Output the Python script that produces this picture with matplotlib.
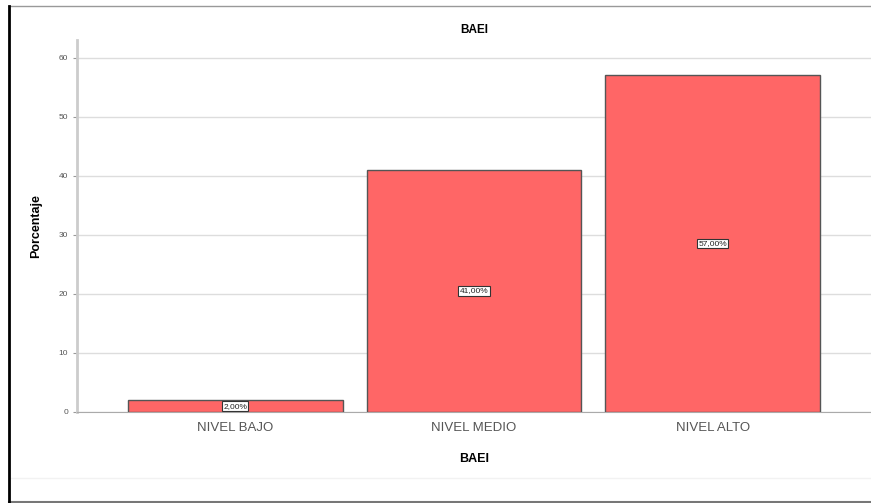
import matplotlib

matplotlib.use('Agg')
import matplotlib.pyplot as plt
from matplotlib.lines import Line2D

plt.rcParams['font.family'] = ['Liberation Sans', 'DejaVu Sans']

# Data
categories = ['NIVEL BAJO', 'NIVEL MEDIO', 'NIVEL ALTO']
percentages = [2.0, 41.0, 57.0]
yticks = [0, 10, 20, 30, 40, 50, 60]

fig = plt.figure(figsize=(8.71, 5.03), dpi=100)
ax = fig.add_axes([0.0884, 0.181, 0.9116, 0.7396])

x = range(len(categories))
ax.bar(x, percentages, width=0.9, color='#FF6666', edgecolor='#555555',
       linewidth=1.0, zorder=3)

# value labels in boxes at mid height
for i, v in zip(x, percentages):
    ax.text(i, v / 2, f'{v:.2f}%'.replace('.', ','), ha='center', va='center',
            fontsize=6, color='#222222', zorder=4,
            bbox=dict(boxstyle='square,pad=0.15', fc='white', ec='#333333', lw=0.8))

ax.set_xlim(-0.663, 2.663)
ax.set_ylim(0, 63)
ax.set_yticks(yticks)
ax.set_xticks(list(x))
ax.set_xticklabels(categories, fontsize=9.5, color='#555555')
ax.tick_params(axis='y', labelsize=6, colors='#555555', length=3, color='#999999')
ax.tick_params(axis='x', length=0, pad=7)

ax.grid(axis='y', color='#dddddd', linewidth=1.0, zorder=0)
ax.spines['top'].set_visible(False)
ax.spines['right'].set_visible(False)
ax.spines['left'].set_color('#cccccc')
ax.spines['left'].set_linewidth(2)
ax.spines['bottom'].set_color('#aaaaaa')

ax.set_title('BAEI', fontsize=8.5, fontweight='bold', pad=5)
ax.set_xlabel('BAEI', fontsize=9, fontweight='bold', labelpad=14)
ax.set_ylabel('Porcentaje', fontsize=9, fontweight='bold', labelpad=12)

# frame around the chart
fig.add_artist(Line2D([10 / 871, 1], [1 - 478 / 503, 1 - 478 / 503],
                      transform=fig.transFigure, color='#f2f2f2', lw=1))
fig.add_artist(Line2D([9 / 871, 1], [1 - 6 / 503, 1 - 6 / 503],
                      transform=fig.transFigure, color='#999999', lw=1))
fig.add_artist(Line2D([9 / 871, 1], [1 - 502 / 503, 1 - 502 / 503],
                      transform=fig.transFigure, color='#777777', lw=1.5))
fig.add_artist(Line2D([9 / 871, 9 / 871], [1 - 6 / 503, 1 - 502 / 503],
                      transform=fig.transFigure, color='black', lw=2))

fig.savefig('out.png', dpi=100)
